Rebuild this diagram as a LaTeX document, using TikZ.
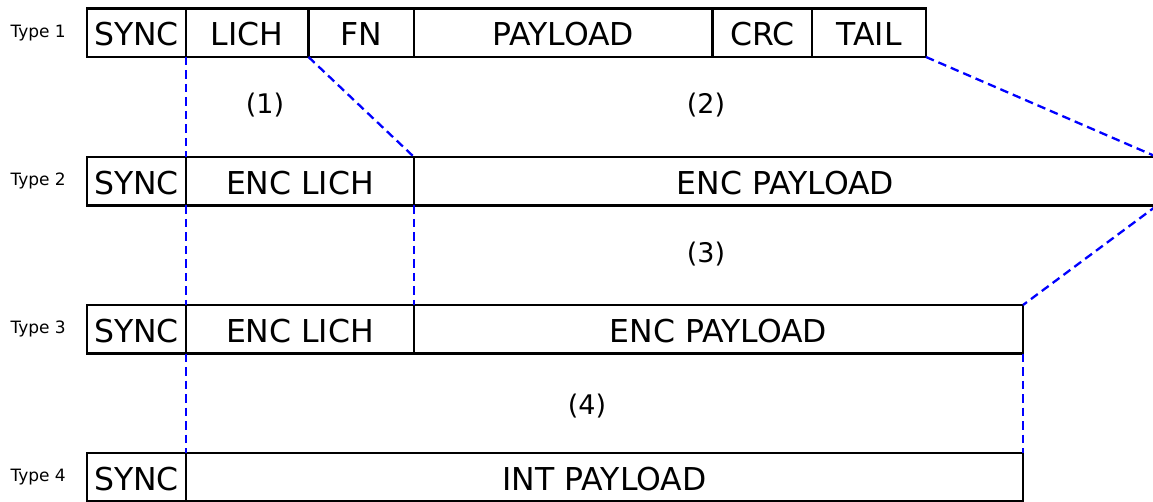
\documentclass[tikz,border=0pt]{standalone}
\usepackage{fontspec}
\setmainfont{DejaVu Sans}
\usetikzlibrary{positioning}

\begin{document}
\begin{tikzpicture}[x=1pt, y=-1pt,
  field/.style={draw, line width=2.3pt, minimum height=48.5pt, inner sep=0pt,
    outer sep=0pt, text height=26.5pt, text depth=0pt,
    font=\fontsize{31.5}{38}\selectfont},
  rowlabel/.style={font=\fontsize{17}{20}\selectfont, inner sep=0pt},
  steplabel/.style={font=\fontsize{27}{32}\selectfont, inner sep=0pt},
  map/.style={blue, line width=2.3pt, dash pattern=on 8.5pt off 5pt}]

  \useasboundingbox (0,0) rectangle (1153,502);

  % Type 1
  \node[field, anchor=north west, minimum width=99pt] (sync1) at (87,8.5) {SYNC};
  \node[field, minimum width=122.5pt, right=0pt of sync1] (lich1) {LICH};
  \node[field, minimum width=105.5pt, right=0pt of lich1] (fn1) {FN};
  \node[field, minimum width=298.5pt, right=0pt of fn1] (pay1) {PAYLOAD};
  \node[field, minimum width=99.5pt, right=0pt of pay1] (crc1) {CRC};
  \node[field, minimum width=114pt, right=0pt of crc1] (tail1) {TAIL};
  \node[rowlabel, left=21pt of sync1] (type1) {Type 1};

  % Type 2
  \node[field, anchor=north west, minimum width=99pt] (sync2) at (87,157) {SYNC};
  \node[field, minimum width=228pt, right=0pt of sync2] (lich2) {ENC LICH};
  \node[field, minimum width=743pt, right=0pt of lich2] (pay2) {ENC PAYLOAD};
  \node[rowlabel, left=21pt of sync2] (type2) {Type 2};

  % Type 3
  \node[field, anchor=north west, minimum width=99pt] (sync3) at (87,305) {SYNC};
  \node[field, minimum width=228pt, right=0pt of sync3] (lich3) {ENC LICH};
  \node[field, minimum width=609pt, right=0pt of lich3] (pay3) {ENC PAYLOAD};
  \node[rowlabel, left=21pt of sync3] (type3) {Type 3};

  % Type 4
  \node[field, anchor=north west, minimum width=99pt] (sync4) at (87,453) {SYNC};
  \node[field, minimum width=837pt, right=0pt of sync4] (pay4) {INT PAYLOAD};
  \node[rowlabel, left=21pt of sync4] (type4) {Type 4};

  % steps
  \node[steplabel] (step1) at (265,105.5) {(1)};
  \node[steplabel] (step2) at (706,105.5) {(2)};
  \node[steplabel] (step3) at (706,254.5) {(3)};
  \node[steplabel] (step4) at (587,406.5) {(4)};

  \draw[map] (sync1.south east) -- (sync2.north east);
  \draw[map] (lich1.south east) -- (lich2.north east);
  \draw[map] (tail1.south east) -- (pay2.north east);
  \draw[map] (sync2.south east) -- (sync3.north east);
  \draw[map] (lich2.south east) -- (lich3.north east);
  \draw[map] (pay2.south east) -- (pay3.north east);
  \draw[map] (sync3.south east) -- (sync4.north east);
  \draw[map] (pay3.south east) -- (pay4.north east);
\end{tikzpicture}
\end{document}
